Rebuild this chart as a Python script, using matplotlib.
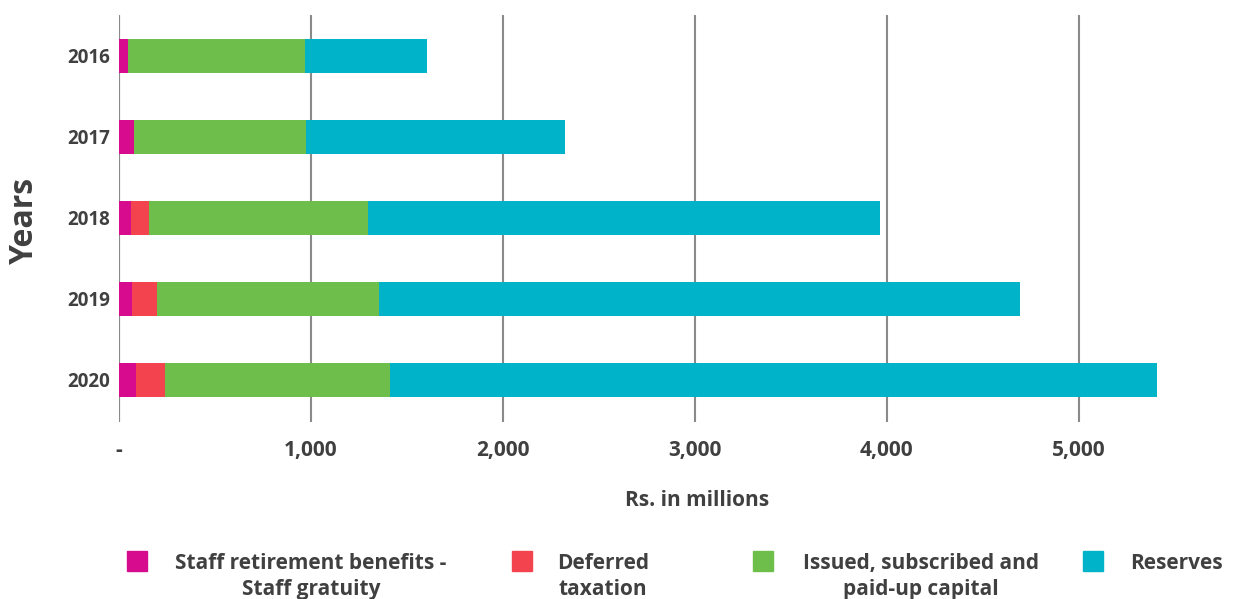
import matplotlib.pyplot as plt
from matplotlib.patches import Rectangle
from matplotlib.ticker import FuncFormatter
import numpy as np

plt.rcParams['font.family'] = ['Open Sans', 'DejaVu Sans']

years = ['2016', '2017', '2018', '2019', '2020']
staff_gratuity = [47, 78, 62, 68, 89]
deferred_tax = [0, 0, 94, 130, 151]
paid_up_capital = [922, 896, 1141, 1156, 1171]
reserves = [635, 1349, 2667, 3339, 3995]

series = [staff_gratuity, deferred_tax, paid_up_capital, reserves]
labels = ['Staff retirement benefits -\nStaff gratuity', 'Deferred\ntaxation',
          'Issued, subscribed and\npaid-up capital', 'Reserves']
colors = ['#D60B8E', '#F2434F', '#6DBE4B', '#00B3C8']
TXT = '#404040'

fig = plt.figure(figsize=(12.6, 5.99), dpi=100)
ax = fig.add_axes([119/1260, 1 - 422/599, (1194 - 119)/1260, (422 - 15)/599])

y = np.arange(len(years))
left = np.zeros(len(years))
for vals, c in zip(series, colors):
    ax.barh(y, vals, left=left, height=0.42, color=c, zorder=3)
    left += np.array(vals)

ax.set_ylim(4.52, -0.5)
ax.set_xlim(0, 5600)
ax.set_xticks([0, 1000, 2000, 3000, 4000, 5000])
ax.xaxis.set_major_formatter(FuncFormatter(lambda v, p: '-' if v == 0 else f'{int(v):,}'))
ax.set_yticks(y)
ax.set_yticklabels(years, ha='left')
ax.tick_params(axis='y', length=0, pad=37, labelsize=13.5, labelcolor=TXT)
ax.tick_params(axis='x', length=0, pad=13, labelsize=15, labelcolor=TXT)
for lab in ax.get_xticklabels() + ax.get_yticklabels():
    lab.set_fontweight('bold')

ax.grid(axis='x', color='#8a8a8a', linewidth=1.5, zorder=0)
ax.axvline(0, color='#8a8a8a', linewidth=1.5, zorder=1)
for s in ax.spines.values():
    s.set_visible(False)

ax.set_xlabel('Rs. in millions', fontsize=15, fontweight='bold', color=TXT)
ax.xaxis.set_label_coords((697 - 119)/(1194 - 119), -(500 - 422)/407)
ax.xaxis.label.set_va('center')
fig.text(24/1260, 1 - 220/599, 'Years', rotation=90, ha='center', va='center',
         fontsize=23, fontweight='bold', color=TXT)

# legend drawn by hand to match the spacing
marker_x = [127, 512, 753, 1083]
text_x = [311, 603, 921, 1176]
for mx, tx, lab, c in zip(marker_x, text_x, labels, colors):
    fig.patches.append(Rectangle((mx/1260, 1 - 571/599), 20/1260, 20/599,
                                 transform=fig.transFigure, color=c))
    fig.text(tx/1260, 1 - 553/599, lab, ha='center', va='top', multialignment='center',
             fontsize=15, fontweight='bold', color=TXT, linespacing=1.3)

fig.savefig('out.png', dpi=100)
plt.close()
